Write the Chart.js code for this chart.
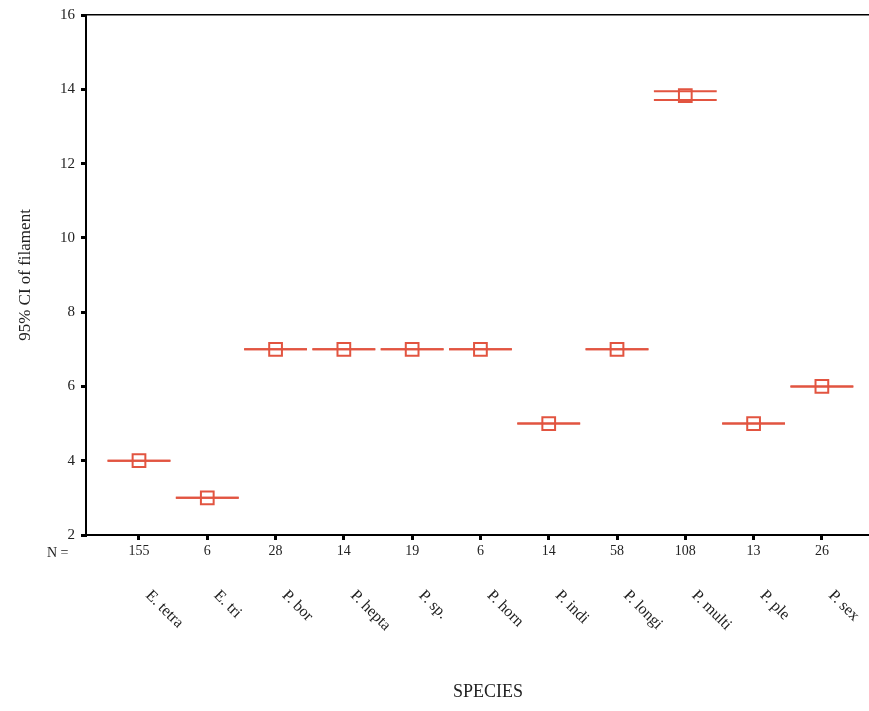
<!DOCTYPE html>
<html lang="en">
<head>
    <meta charset="UTF-8">
    <title>95% CI of filament by species</title>
    <script src="https://cdn.jsdelivr.net/npm/chart.js@4.4.0/dist/chart.umd.min.js"></script>
    <style>
        html, body { margin: 0; padding: 0; background: #fff; }
        #wrap { width: 869px; height: 711px; }
    </style>
</head>
<body>
    <div id="wrap"><canvas id="graphique" width="869" height="711"></canvas></div>

    <script>
        // data
        const species = ['E. tetra', 'E. tri', 'P. bor', 'P. hepta', 'P. sp.', 'P. horn',
                         'P. indi', 'P. longi', 'P. multi', 'P. ple', 'P. sex'];
        const nCounts = ['155', '6', '28', '14', '19', '6', '14', '58', '108', '13', '26'];
        const means   = [4, 3, 7, 7, 7, 7, 5, 7, 13.83, 5, 6];
        const lowerCI = [4, 3, 7, 7, 7, 7, 5, 7, 13.71, 5, 6];
        const upperCI = [4, 3, 7, 7, 7, 7, 5, 7, 13.95, 5, 6];
        const yTicks  = [2, 4, 6, 8, 10, 12, 14, 16];

        const red = 'rgb(226, 84, 64)';
        const serif = "'Liberation Serif', 'DejaVu Serif', serif";
        const half = 0.46; // half width of the CI bar, in category units

        // horizontal bar for each category, broken by a null point
        function barLine(vals) {
            const pts = [];
            vals.forEach((v, i) => {
                pts.push({ x: i + 1 - half, y: v });
                pts.push({ x: i + 1 + half, y: v });
                pts.push({ x: i + 1 + 0.5, y: null });
            });
            return pts;
        }

        // species names at 45 degrees under the N row, plus "N =" and the x title
        const speciesLabels = {
            id: 'speciesLabels',
            afterDraw(chart) {
                const ctx = chart.ctx;
                const xs = chart.scales.x;
                ctx.save();
                ctx.fillStyle = '#222';
                ctx.font = '14px ' + serif;
                ctx.textBaseline = 'middle';
                ctx.textAlign = 'left';
                ctx.fillText('N =', 47, 553);

                ctx.font = '16px ' + serif;
                species.forEach((s, i) => {
                    const px = xs.getPixelForValue(i + 1);
                    ctx.save();
                    ctx.translate(px + 9, 593);
                    ctx.rotate(Math.PI / 4);
                    ctx.fillText(s, 0, 0);
                    ctx.restore();
                });

                ctx.font = '18px ' + serif;
                ctx.textAlign = 'center';
                ctx.fillText('SPECIES', 488, 692);
                ctx.restore();
            }
        };

        const ctx = document.getElementById('graphique').getContext('2d');
        new Chart(ctx, {
            type: 'scatter',
            data: {
                datasets: [
                    {
                        type: 'line',
                        label: 'upper',
                        data: barLine(upperCI),
                        borderColor: red,
                        borderWidth: 2,
                        pointRadius: 0,
                        spanGaps: false,
                        order: 2
                    },
                    {
                        type: 'line',
                        label: 'lower',
                        data: barLine(lowerCI),
                        borderColor: red,
                        borderWidth: 2,
                        pointRadius: 0,
                        spanGaps: false,
                        order: 2
                    },
                    {
                        label: 'mean',
                        data: means.map((v, i) => ({ x: i + 1, y: v })),
                        pointStyle: 'rect',
                        pointRadius: 9,
                        pointHoverRadius: 9,
                        borderColor: red,
                        borderWidth: 2,
                        backgroundColor: 'rgba(255,255,255,0)',
                        order: 1
                    }
                ]
            },
            options: {
                responsive: false,
                animation: false,
                layout: { autoPadding: false, padding: { top: 15, right: 0, left: 0, bottom: 0 } },
                plugins: {
                    legend: { display: false },
                    tooltip: { enabled: false }
                },
                scales: {
                    x: {
                        type: 'linear',
                        position: 'bottom',
                        min: 0.224,
                        max: 11.69,
                        afterBuildTicks: s => { s.ticks = species.map((_, i) => ({ value: i + 1 })); },
                        afterFit: s => { s.height = 176; },
                        border: { display: true, color: '#000', width: 2 },
                        grid: { drawOnChartArea: false, tickLength: 5, lineWidth: 3, color: '#000' },
                        ticks: {
                            autoSkip: false,
                            maxRotation: 0,
                            padding: 3,
                            color: '#222',
                            font: { family: serif, size: 14 },
                            callback: v => nCounts[Math.round(v) - 1]
                        }
                    },
                    xTop: {
                        type: 'linear',
                        position: 'top',
                        min: 0.224,
                        max: 11.69,
                        afterFit: s => { s.height = 0; },
                        border: { display: true, color: '#000', width: 1.5 },
                        grid: { display: false },
                        ticks: { display: false }
                    },
                    y: {
                        min: 2,
                        max: 16,
                        afterBuildTicks: s => { s.ticks = yTicks.map(v => ({ value: v })); },
                        afterFit: s => { s.width = 86; },
                        border: { display: true, color: '#000', width: 2 },
                        grid: { drawOnChartArea: false, tickLength: 5, lineWidth: 3, color: '#000' },
                        ticks: {
                            padding: 6,
                            color: '#222',
                            font: { family: serif, size: 15 }
                        },
                        title: {
                            display: true,
                            text: '95% CI of filament',
                            color: '#222',
                            font: { family: serif, size: 17 },
                            padding: { top: 15, bottom: 0 }
                        }
                    }
                }
            },
            plugins: [speciesLabels]
        });
    </script>
</body>
</html>
